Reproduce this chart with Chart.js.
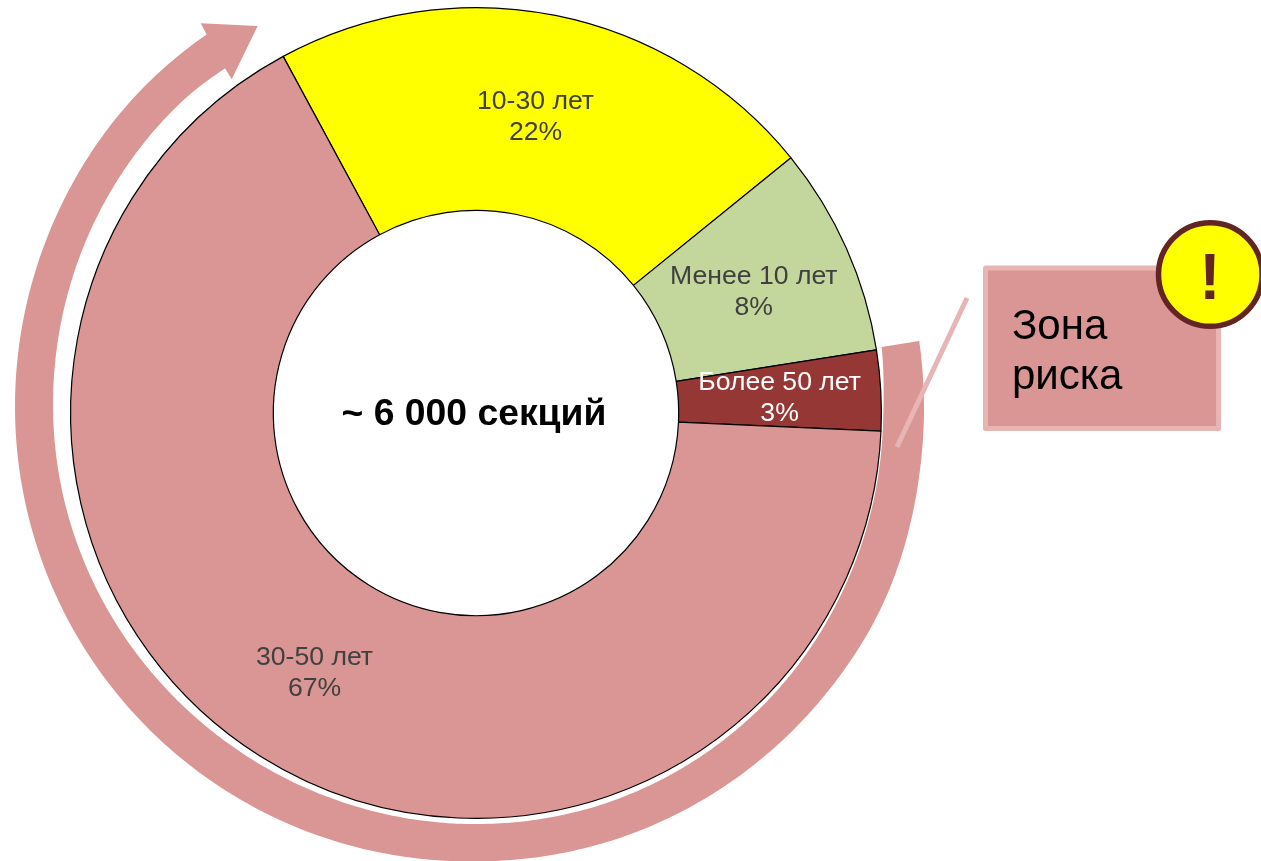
<!DOCTYPE html>
<html lang="ru">
<head>
<meta charset="utf-8">
<title>Секции по возрасту</title>
<script src="https://cdn.jsdelivr.net/npm/chart.js@4/dist/chart.umd.min.js"></script>
<style>
html,body{margin:0;padding:0;background:#fff;overflow:hidden}
canvas{display:block}
</style>
</head>
<body>
<canvas id="c" width="1261" height="861"></canvas>
<script>
const categories = ["10-30 лет", "Менее 10 лет", "Более 50 лет", "30-50 лет"];
const percentLabels = ["22%", "8%", "3%", "67%"];
const values = [22.05, 8.35, 3.2, 66.4];
const sliceColors = ["#FFFF00", "#C3D69B", "#953735", "#DA9694"];
const labelColors = ["#404040", "#404040", "#FFFFFF", "#404040"];
const centerText = "~ 6 000 секций";
const calloutLines = ["Зона", "риска"];
const FONT = '"Liberation Sans", Arial, sans-serif';

// Decorative circular arrow outline (not data): [angle in degrees, radius] around its own centre
const ARROW_CX = 469.5, ARROW_CY = 407;
const arrowOuter = [[-8.35,454.5],[0,454.5],[9,455],[26,458],[38,457.5],[69,456.5],[90,454.5],[108,454.5],[135,454.5],[180,454.5],[200,455],[222,456.5],[234.8,456]];
const arrowHead = [[200.7,23.3],[257.7,26],[231.7,79.3],[225,68.3]];
const arrowInner = [[-8.3,416.5],[0,414],[10,414.5],[25,416],[45,418.5],[70,419],[90,417],[115,414.5],[135,414],[170,416],[190,417],[210,418.5],[227,419.5],[234.2,417.7]];

function radiusAt(tbl, a) {
  let i = 0;
  while (i < tbl.length - 2 && a > tbl[i + 1][0]) i++;
  const p0 = tbl[Math.max(i - 1, 0)], p1 = tbl[i], p2 = tbl[i + 1], p3 = tbl[Math.min(i + 2, tbl.length - 1)];
  const t = Math.min(1, Math.max(0, (a - p1[0]) / (p2[0] - p1[0])));
  const h = p2[0] - p1[0];
  const m1 = (p2[1] - p0[1]) / (p2[0] - p0[0]) * h, m2 = (p3[1] - p1[1]) / (p3[0] - p1[0]) * h;
  const t2 = t * t, t3 = t2 * t;
  return (2*t3 - 3*t2 + 1) * p1[1] + (t3 - 2*t2 + t) * m1 + (-2*t3 + 3*t2) * p2[1] + (t3 - t2) * m2;
}
function edge(c, tbl, reverse) {
  const from = tbl[0][0], to = tbl[tbl.length - 1][0], n = 400;
  for (let k = 0; k <= n; k++) {
    const f = reverse ? 1 - k / n : k / n;
    const a = from + (to - from) * f, r = radiusAt(tbl, a), rad = a * Math.PI / 180;
    c.lineTo(ARROW_CX + r * Math.cos(rad), ARROW_CY + r * Math.sin(rad));
  }
}

const overlay = {
  id: "overlay",
  beforeDatasetsDraw(chart) {
    const c = chart.ctx;
    c.save();
    c.fillStyle = "#DA9694";
    c.beginPath();
    edge(c, arrowOuter, false);
    arrowHead.forEach(p => c.lineTo(p[0], p[1]));
    edge(c, arrowInner, true);
    c.closePath();
    c.fill();
    c.restore();
  },
  afterDatasetsDraw(chart) {
    const c = chart.ctx;
    const arcs = chart.getDatasetMeta(0).data;
    c.save();
    c.textAlign = "center";
    c.textBaseline = "middle";
    c.font = "26.6px " + FONT;
    arcs.forEach((a, i) => {
      const p = a.getCenterPoint();
      c.fillStyle = labelColors[i];
      c.fillText(categories[i], p.x, p.y - 13);
      c.fillText(percentLabels[i], p.x, p.y + 18);
    });
    c.fillStyle = "#000";
    c.font = "bold 37.3px " + FONT;
    c.fillText(centerText, arcs[0].x - 2, 415);

    // callout leader
    c.strokeStyle = "#E6B5B4";
    c.lineWidth = 5;
    c.beginPath();
    c.moveTo(967, 298);
    c.lineTo(897, 447);
    c.stroke();

    // callout box
    c.fillStyle = "#DA9694";
    c.lineJoin = "round";
    c.beginPath();
    c.rect(985.5, 268, 233, 160.5);
    c.fill();
    c.stroke();

    c.fillStyle = "#000";
    c.textAlign = "left";
    c.textBaseline = "alphabetic";
    c.font = "42px " + FONT;
    c.fillText(calloutLines[0], 1012, 339);
    c.fillText(calloutLines[1], 1012, 389);

    // warning badge
    c.fillStyle = "#FFFF00";
    c.strokeStyle = "#632523";
    c.lineWidth = 5.5;
    c.beginPath();
    c.arc(1210.3, 274.5, 51.8, 0, Math.PI * 2);
    c.fill();
    c.stroke();
    c.fillStyle = "#632523";
    c.textAlign = "center";
    c.font = "bold 64px " + FONT;
    c.fillText("!", 1210, 299);
    c.restore();
  }
};

new Chart(document.getElementById("c"), {
  type: "doughnut",
  data: {
    labels: categories,
    datasets: [{
      data: values,
      backgroundColor: sliceColors,
      borderColor: "#000000",
      borderWidth: 1.2
    }]
  },
  options: {
    responsive: false,
    animation: false,
    rotation: -28.4,
    cutout: "50%",
    layout: { padding: { left: 70, right: 379, top: 7, bottom: 42 } },
    plugins: { legend: { display: false }, tooltip: { enabled: false } }
  },
  plugins: [overlay]
});
</script>
</body>
</html>
